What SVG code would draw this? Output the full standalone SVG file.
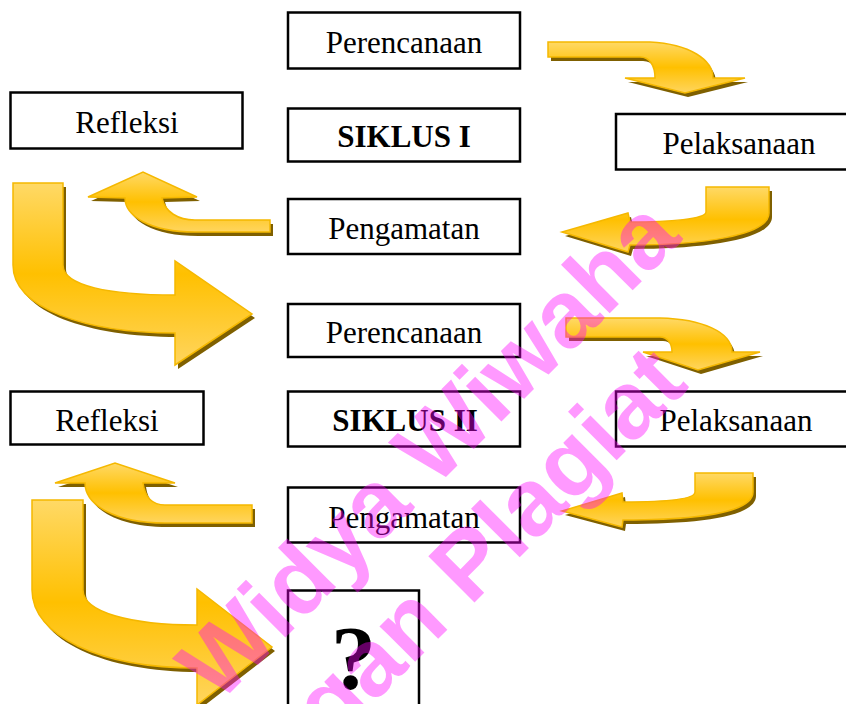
<svg xmlns="http://www.w3.org/2000/svg" width="846" height="704" viewBox="0 0 846 704">
<style>
.box{fill:#ffffff;stroke:#000000;stroke-width:2.5}
.lbl{font-family:"Liberation Serif","Times New Roman",serif;font-size:31px;fill:#000000;text-anchor:middle}
.bold{font-weight:bold}
.arrow{fill:url(#yg);stroke:#f5b800;stroke-width:1.5;stroke-linejoin:miter}
.shadow{fill:#7f6000}
.wm{font-family:"Liberation Sans",Arial,sans-serif;font-weight:bold;font-size:95px;fill:#ff00ff;fill-opacity:0.4}
</style>
<defs>
<linearGradient id="yg" x1="0" y1="0" x2="0" y2="1">
<stop offset="0" stop-color="#ffd966"/>
<stop offset="0.5" stop-color="#ffc000"/>
<stop offset="1" stop-color="#ffd55e"/>
</linearGradient>
</defs>
<rect width="846" height="704" fill="#ffffff"/>

<g id="perencanaan1"><rect class="box" x="288" y="12.5" width="232" height="56"/><text class="lbl" x="404" y="53">Perencanaan</text></g>
<g id="refleksi1"><rect class="box" x="10.5" y="92.5" width="232" height="56"/><text class="lbl" x="127" y="133">Refleksi</text></g>
<g id="siklus1"><rect class="box" x="288" y="108.5" width="232" height="53"/><text class="lbl bold" x="404" y="146.5">SIKLUS I</text></g>
<g id="pelaksanaan1"><rect class="box" x="616" y="114" width="246" height="55.5"/><text class="lbl" x="739" y="154">Pelaksanaan</text></g>
<g id="pengamatan1"><rect class="box" x="288" y="199" width="232" height="55"/><text class="lbl" x="404" y="239">Pengamatan</text></g>
<g id="perencanaan2"><rect class="box" x="288" y="304" width="232" height="53"/><text class="lbl" x="404" y="343">Perencanaan</text></g>
<g id="refleksi2"><rect class="box" x="10.5" y="391.5" width="193" height="53"/><text class="lbl" x="107" y="430.5">Refleksi</text></g>
<g id="siklus2"><rect class="box" x="288" y="391.5" width="232" height="55"/><text class="lbl bold" x="405" y="431">SIKLUS II</text></g>
<g id="pelaksanaan2"><rect class="box" x="616" y="391.5" width="246" height="55"/><text class="lbl" x="736" y="431">Pelaksanaan</text></g>
<g id="pengamatan2"><rect class="box" x="288" y="487.5" width="232" height="55"/><text class="lbl" x="404" y="528">Pengamatan</text></g>
<g id="unknown"><rect class="box" x="288" y="590.5" width="131" height="130"/><text class="lbl bold" x="353.5" y="689" style="font-size:90px">?</text></g>

<g id="connectors">
<g transform="translate(3,4)" class="shadow">
<path d="M548,42 L650,42 C690,44 713,60 713,78 L745,78 L685,93 L625,78 L655,78 C655,66 650,57 640,57 L548,57 Z"/>
<path d="M706,187 L769,187 L769,213 C769,236 700,245 630,245 L628,252 L562,232 L628,213 L630,222 C670,222 706,219 706,212 Z"/>
<path d="M270,220 L270,232 L195,232 C150,232 125,216 125,198 L88,197 L143,172 L197,197 L162,198 C165,212 178,220 195,220 Z"/>
<path d="M13,183 L63,183 L63,265 C63,286 110,295 175,295 L175,261 L252,314 L175,365 L175,333 C85,333 13,308 13,265 Z"/>
<path d="M566,318 L660,318 C702,319 732,332 732,352 L760,352 L698,370 L643,352 L672,352 C672,343 667,337 660,337 L566,337 Z"/>
<path d="M695,473 L753,473 L753,492 C753,512 700,520 623,520 L622,527 L562,511 L622,493 L623,502 C660,502 695,500 695,492 Z"/>
<path d="M252,505 L252,523 L165,523 C115,523 85,505 85,483 L55,483 L115,463 L175,483 L143,483 C145,497 152,505 165,505 Z"/>
<path d="M32,500 L83,500 L83,590 C83,612 130,625 197,625 L197,589 L272,647 L197,705 L197,668 C100,668 32,636 32,590 Z"/>
</g>
<path class="arrow" d="M548,42 L650,42 C690,44 713,60 713,78 L745,78 L685,93 L625,78 L655,78 C655,66 650,57 640,57 L548,57 Z"/>
<path class="arrow" d="M706,187 L769,187 L769,213 C769,236 700,245 630,245 L628,252 L562,232 L628,213 L630,222 C670,222 706,219 706,212 Z"/>
<path class="arrow" d="M270,220 L270,232 L195,232 C150,232 125,216 125,198 L88,197 L143,172 L197,197 L162,198 C165,212 178,220 195,220 Z"/>
<path class="arrow" d="M13,183 L63,183 L63,265 C63,286 110,295 175,295 L175,261 L252,314 L175,365 L175,333 C85,333 13,308 13,265 Z"/>
<path class="arrow" d="M566,318 L660,318 C702,319 732,332 732,352 L760,352 L698,370 L643,352 L672,352 C672,343 667,337 660,337 L566,337 Z"/>
<path class="arrow" d="M695,473 L753,473 L753,492 C753,512 700,520 623,520 L622,527 L562,511 L622,493 L623,502 C660,502 695,500 695,492 Z"/>
<path class="arrow" d="M252,505 L252,523 L165,523 C115,523 85,505 85,483 L55,483 L115,463 L175,483 L143,483 C145,497 152,505 165,505 Z"/>
<path class="arrow" d="M32,500 L83,500 L83,590 C83,612 130,625 197,625 L197,589 L272,647 L197,705 L197,668 C100,668 32,636 32,590 Z"/>
</g>

<g id="watermark">
<text class="wm" transform="translate(218,705) rotate(-45)">Widya Wiwaha</text>
<text class="wm" transform="translate(332,745) rotate(-45)">gan Plagiat</text>
</g>
</svg>
